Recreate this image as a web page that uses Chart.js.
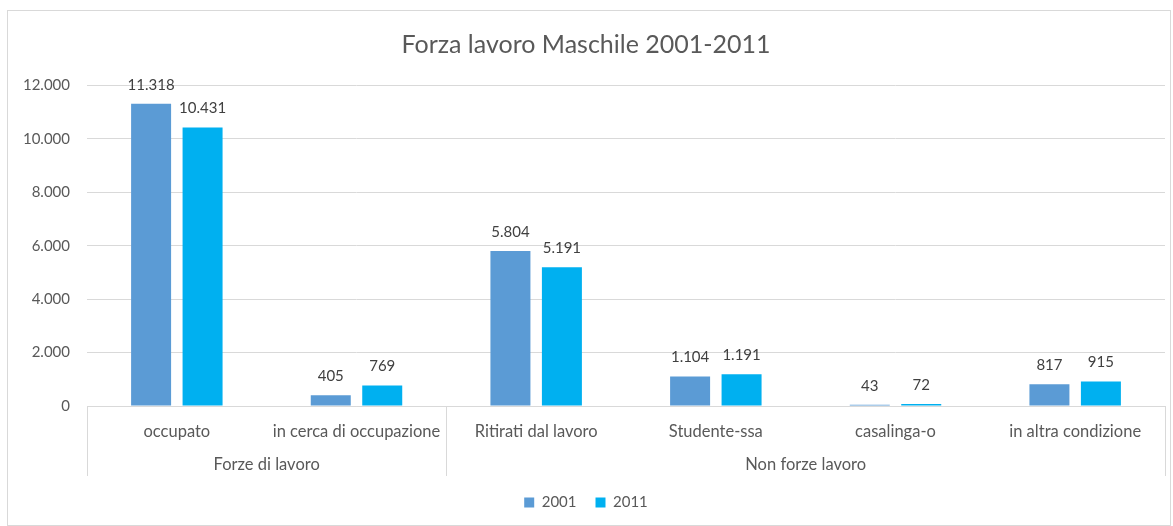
<!DOCTYPE html>
<html>
<head>
<meta charset="utf-8">
<script src="https://cdn.jsdelivr.net/npm/chart.js@4"></script>
<style>
  body { margin: 0; background: #fff; }
  #wrap { position: relative; width: 1173px; height: 526px; }
  #frame { position: absolute; left: 7px; top: 10px; width: 1164px; height: 516px; border: 1px solid #d9d9d9; box-sizing: border-box; pointer-events: none; }
  canvas { position: absolute; left: 0; top: 0; }
</style>
</head>
<body>
<div id="wrap">
  <canvas id="myChart" width="1173" height="526"></canvas>
  <div id="frame"></div>
</div>
<script>
var categories = ["occupato", "in cerca di occupazione", "Ritirati dal lavoro", "Studente-ssa", "casalinga-o", "in altra condizione"];
var groups = ["Forze di lavoro", "Non forze lavoro"];
var groupSizes = [2, 4];
var values2001 = [11318, 405, 5804, 1104, 43, 817];
var values2011 = [10431, 769, 5191, 1191, 72, 915];
var yTicks = [0, 2000, 4000, 6000, 8000, 10000, 12000];

var textColor = "#595959";
var fontFamily = "Lato, 'Open Sans', sans-serif";

function fmt(v) {
  return String(v).replace(/\B(?=(\d{3})+(?!\d))/g, ".");
}

// numbers above the bars
var valueLabels = {
  id: "valueLabels",
  afterDatasetsDraw: function (chart) {
    var ctx = chart.ctx;
    ctx.save();
    ctx.font = "15px " + fontFamily;
    ctx.fillStyle = "#404040";
    ctx.textAlign = "center";
    ctx.textBaseline = "middle";
    chart.data.datasets.forEach(function (ds, i) {
      chart.getDatasetMeta(i).data.forEach(function (bar, j) {
        ctx.fillText(fmt(ds.data[j]), bar.x, bar.y - 19);
      });
    });
    ctx.restore();
  },
};

// second level of the category axis
var groupAxis = {
  id: "groupAxis",
  afterDraw: function (chart) {
    var ctx = chart.ctx;
    var x = chart.scales.x;
    var step = (x.right - x.left) / categories.length;
    var top = x.top;
    var bottom = x.top + 70;
    ctx.save();
    ctx.strokeStyle = "#d9d9d9";
    ctx.lineWidth = 1;
    ctx.font = "16.5px " + fontFamily;
    ctx.fillStyle = textColor;
    ctx.textAlign = "center";
    ctx.textBaseline = "middle";
    var start = 0;
    var edges = [x.left];
    groups.forEach(function (g, i) {
      var x0 = x.left + start * step;
      var x1 = x0 + groupSizes[i] * step;
      edges.push(x1);
      ctx.fillText(g, (x0 + x1) / 2, top + 59);
      start += groupSizes[i];
    });
    edges.forEach(function (e) {
      var px = Math.round(e) + 0.5;
      ctx.beginPath();
      ctx.moveTo(px, top);
      ctx.lineTo(px, bottom);
      ctx.stroke();
    });
    ctx.restore();
  },
};

var ctx = document.getElementById("myChart");
var myChart = new Chart(ctx, {
  type: "bar",
  data: {
    labels: categories,
    datasets: [
      {
        label: "2001",
        data: values2001,
        backgroundColor: "#5B9BD5",
        categoryPercentage: 0.573,
        barPercentage: 0.777,
      },
      {
        label: "2011",
        data: values2011,
        backgroundColor: "#00B0F0",
        categoryPercentage: 0.573,
        barPercentage: 0.777,
      },
    ],
  },
  options: {
    responsive: false,
    animation: false,
    layout: { padding: { left: 7, right: 8, bottom: 6 } },
    plugins: {
      title: {
        display: true,
        text: "Forza lavoro Maschile 2001-2011",
        color: textColor,
        font: { family: fontFamily, size: 25, weight: "normal" },
        padding: { top: 30, bottom: 25.5 },
      },
      legend: {
        position: "bottom",
        labels: {
          color: textColor,
          font: { family: fontFamily, size: 15 },
          boxWidth: 10,
          boxHeight: 10,
          padding: 19,
        },
      },
      tooltip: { enabled: false },
    },
    scales: {
      x: {
        grid: { display: false },
        border: { display: true, color: "#d9d9d9" },
        ticks: {
          color: textColor,
          font: { family: fontFamily, size: 16.5 },
          maxRotation: 0,
          autoSkip: false,
          padding: 8,
        },
        afterFit: function (s) { s.height = 70; },
      },
      y: {
        min: 0,
        max: 12000,
        afterBuildTicks: function (s) {
          s.ticks = yTicks.map(function (v) { return { value: v }; });
        },
        grid: { color: "#d9d9d9", drawTicks: false },
        border: { display: false },
        ticks: {
          color: textColor,
          font: { family: fontFamily, size: 15 },
          padding: 17,
          callback: function (v) { return fmt(v); },
        },
        afterFit: function (s) { s.width = 80; },
      },
    },
  },
  plugins: [valueLabels, groupAxis],
});
</script>
</body>
</html>
